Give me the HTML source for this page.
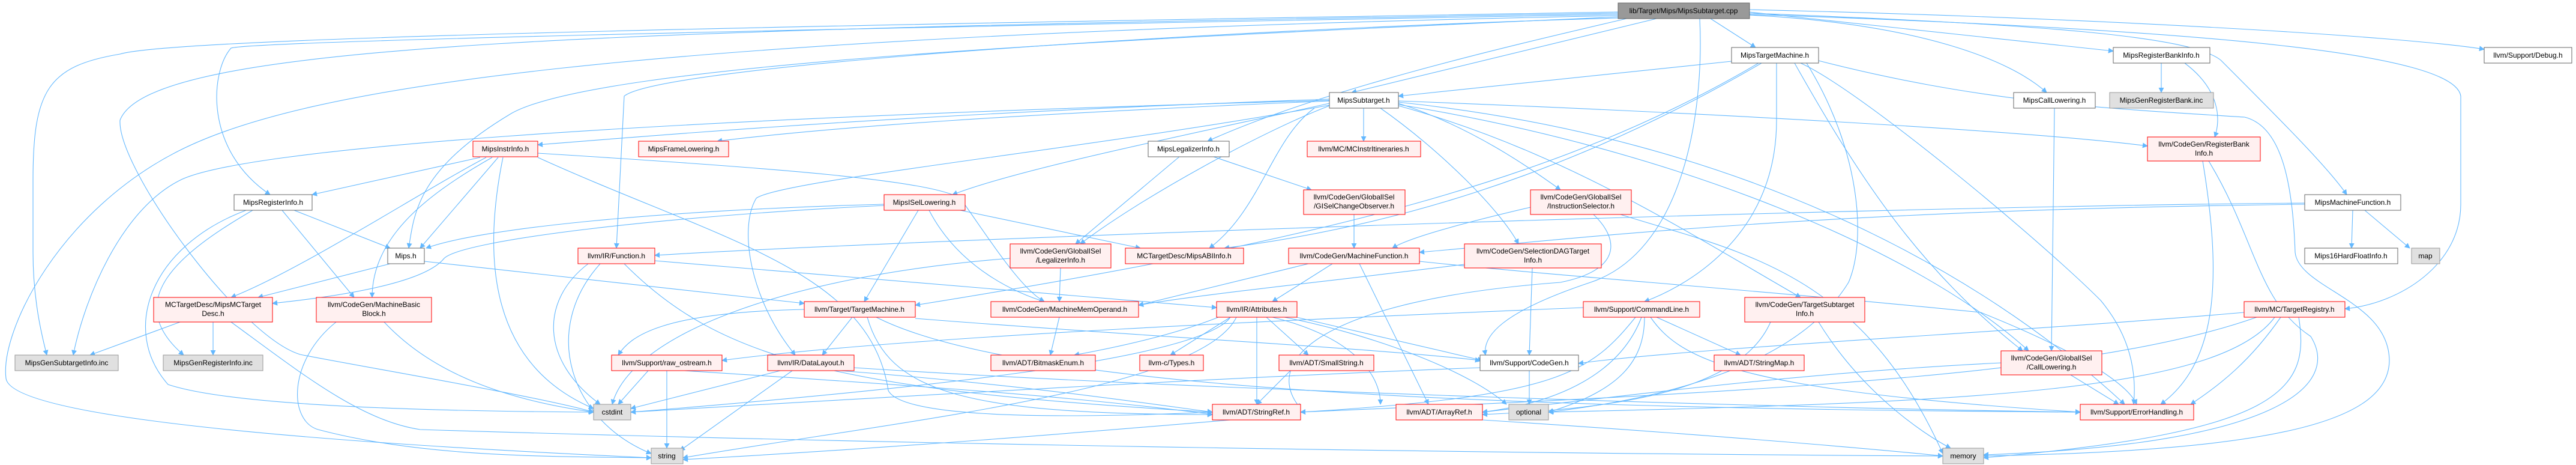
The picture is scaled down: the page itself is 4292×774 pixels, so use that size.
<!DOCTYPE html>
<html><head><meta charset="utf-8"><style>
html,body{margin:0;padding:0;background:#fff;}
svg{display:block;}
text{font-family:"Liberation Sans",sans-serif;font-size:12px;fill:#000;text-anchor:middle;}
.e{fill:none;stroke:#63b8ff;stroke-width:1.1;marker-end:url(#a);}
.w{fill:#fff;stroke:#666;}
.r{fill:#fff0f0;stroke:#f00;}
.g{fill:#e0e0e0;stroke:#999;}
.k{fill:#999;stroke:#666;}
</style></head><body>
<svg width="4292" height="774" viewBox="0 0 4292 774" xmlns="http://www.w3.org/2000/svg">
<defs><marker id="a" viewBox="0 0 10 10" refX="9" refY="5" markerWidth="9" markerHeight="9" markerUnits="userSpaceOnUse" orient="auto"><path d="M0,0L10,5L0,10z" fill="#63b8ff"/></marker></defs>
<g>
<path class="e" d="M2696,20 C1500,40 300,60 200,90 C80,110 55,150 55,300 L55,420 C55,500 70,560 78,591"/>
<path class="e" d="M2696,22 C1000,50 250,70 200,200 C195,280 400,560 500,590 C600,610 900,660 989,686"/>
<path class="e" d="M2696,24 C1200,50 420,70 385,80 C350,120 340,250 450,324"/>
<path class="e" d="M2696,26 C1000,60 500,150 300,250 C100,350 0,550 10,630 C20,700 600,740 1085,762"/>
<path class="e" d="M2696,28 C2000,60 1000,100 850,190 C700,280 690,350 681,413"/>
<path class="e" d="M2696,30 C2000,50 1100,110 1040,160 L1027,413"/>
<path class="e" d="M2710,31 C2500,80 2200,150 2012,235"/>
<path class="e" d="M2760,31 L2252,154"/>
<path class="e" d="M2850,31 L2925,79"/>
<path class="e" d="M2832,31 C2840,200 2800,420 2650,470 C2500,520 2470,560 2475,591"/>
<path class="e" d="M2915,25 C3200,40 3350,100 3410,154"/>
<path class="e" d="M2915,20 L3521,85"/>
<path class="e" d="M2915,16 C3500,30 4000,60 4139,82"/>
<path class="e" d="M2915,22 C3400,40 3650,60 3700,100 C3800,200 3880,280 3910,324"/>
<path class="e" d="M2915,24 C3700,50 4090,90 4100,160 L4100,340 C4100,440 4000,505 3907,514"/>
<path class="e" d="M2885,102 L2330,160"/>
<path class="e" d="M2935,105 C2600,300 2300,380 2040,413"/>
<path class="e" d="M2930,105 C2600,300 2200,400 1525,508"/>
<path class="e" d="M2960,105 L2960,200 C2960,400 2800,480 2740,502"/>
<path class="e" d="M3030,101 C3300,170 3500,180 3740,195 C3800,210 3820,300 3824,420 C3830,480 3980,500 3981,600 C3980,700 3800,750 3305,759"/>
<path class="e" d="M3000,105 C3100,150 3400,400 3500,500 C3550,560 3560,620 3555,673"/>
<path class="e" d="M2990,105 C3100,300 3200,450 3370,584"/>
<path class="e" d="M3010,105 C3100,250 3110,400 3080,470 C3000,600 2800,660 2580,686"/>
<path class="e" d="M2272,180 L2272,235"/>
<path class="e" d="M2300,180 C2400,250 2500,350 2530,406"/>
<path class="e" d="M2330,172 C2450,210 2550,280 2600,316"/>
<path class="e" d="M2330,176 C2600,250 2800,380 3000,495"/>
<path class="e" d="M2330,174 C2800,250 3200,420 3380,584"/>
<path class="e" d="M2330,168 C2900,190 3400,220 3578,243"/>
<path class="e" d="M2330,170 C2900,230 3300,450 3540,673"/>
<path class="e" d="M2190,180 C2120,230 2100,350 2015,413"/>
<path class="e" d="M2215,176 C2100,220 1900,330 1800,406"/>
<path class="e" d="M2215,172 C2000,220 1700,280 1587,324"/>
<path class="e" d="M2215,168 C1700,190 1400,210 1195,235"/>
<path class="e" d="M2215,165 C1500,190 1100,225 896,241"/>
<path class="e" d="M2215,167 C1000,200 400,250 300,300 C200,350 140,500 122,591"/>
<path class="e" d="M2215,175 C1800,250 1300,300 1260,330 C1230,380 1250,500 1325,591"/>
<path class="e" d="M800,262 L520,324"/>
<path class="e" d="M830,262 L700,413"/>
<path class="e" d="M810,262 C700,320 500,450 385,495"/>
<path class="e" d="M820,262 C700,330 620,400 620,495"/>
<path class="e" d="M838,262 C810,400 800,600 989,680"/>
<path class="e" d="M896,255 C1300,280 1550,300 1600,330 C1650,400 1700,480 1740,502"/>
<path class="e" d="M896,262 C1200,400 1450,450 1480,650 C1500,690 1700,700 2020,686"/>
<path class="e" d="M490,350 L650,413"/>
<path class="e" d="M470,350 L590,495"/>
<path class="e" d="M421,350 C300,420 200,500 306,591"/>
<path class="e" d="M410,350 C250,410 200,550 280,640 C400,680 800,685 989,686"/>
<path class="e" d="M650,439 L430,495"/>
<path class="e" d="M707,435 L1340,505"/>
<path class="e" d="M300,536 L150,591"/>
<path class="e" d="M355,536 L355,591"/>
<path class="e" d="M385,536 C500,620 600,700 700,715 C1500,740 2500,755 3237,759"/>
<path class="e" d="M560,536 C480,600 480,700 530,715 C700,760 900,760 1085,762"/>
<path class="e" d="M640,536 C700,600 800,660 989,686"/>
<path class="e" d="M1091,434 L2027,512"/>
<path class="e" d="M980,439 C900,500 900,600 1000,673"/>
<path class="e" d="M1000,439 C900,550 950,700 1085,755"/>
<path class="e" d="M1040,439 C1200,600 1400,650 2020,686"/>
<path class="e" d="M1530,350 L1440,502"/>
<path class="e" d="M1548,350 C1600,450 1700,490 1740,502"/>
<path class="e" d="M1600,350 L1900,413"/>
<path class="e" d="M1473,340 C1100,350 800,380 710,413"/>
<path class="e" d="M1473,342 C1100,360 770,400 740,430 C700,480 500,500 454,505"/>
<path class="e" d="M1767,446 L1765,502"/>
<path class="e" d="M1683,430 C1300,460 1050,560 1020,673"/>
<path class="e" d="M1966,260 L1792,406"/>
<path class="e" d="M2019,260 L2185,316"/>
<path class="e" d="M2256,357 L2256,413"/>
<path class="e" d="M2550,345 C2400,380 2340,400 2320,413"/>
<path class="e" d="M2655,357 C2700,400 2700,450 2600,470 C2200,500 2100,600 2167,680"/>
<path class="e" d="M2700,357 C2900,420 3100,450 3237,755"/>
<path class="e" d="M2553,446 L2548,591"/>
<path class="e" d="M2440,440 C2200,470 2000,490 1897,508"/>
<path class="e" d="M2265,439 L2380,673"/>
<path class="e" d="M2180,439 L1897,508"/>
<path class="e" d="M2220,439 L2120,502"/>
<path class="e" d="M2365,435 C2600,460 2900,480 3300,520 C3500,600 3550,650 3560,673"/>
<path class="e" d="M1420,528 L1370,591"/>
<path class="e" d="M1340,515 C1100,520 1050,560 1030,591"/>
<path class="e" d="M1525,530 C1900,560 2300,580 2466,600"/>
<path class="e" d="M1445,528 C1480,650 1600,690 2020,690"/>
<path class="e" d="M1460,528 C1700,650 2500,680 3466,686"/>
<path class="e" d="M1765,528 L1750,591"/>
<path class="e" d="M2760,528 L2900,591"/>
<path class="e" d="M2725,528 C2650,620 2600,660 2167,686"/>
<path class="e" d="M2735,528 C2700,620 2600,670 2470,686"/>
<path class="e" d="M2740,528 C2740,600 2700,650 2580,686"/>
<path class="e" d="M2750,528 C2800,600 2900,650 3466,686"/>
<path class="e" d="M2638,512 C2200,530 1500,560 1203,600"/>
<path class="e" d="M2110,528 L2180,591"/>
<path class="e" d="M2094,528 L2094,673"/>
<path class="e" d="M2120,528 C2250,560 2300,620 2300,673"/>
<path class="e" d="M2140,528 C2300,560 2450,620 2510,673"/>
<path class="e" d="M2160,528 L2470,600"/>
<path class="e" d="M2050,528 C2000,600 1500,650 1051,686"/>
<path class="e" d="M2060,528 C2000,650 1500,700 1138,762"/>
<path class="e" d="M2050,528 L1950,591"/>
<path class="e" d="M2030,528 C1950,560 1850,580 1790,591"/>
<path class="e" d="M2150,617 L2094,673"/>
<path class="e" d="M2548,617 L2548,673"/>
<path class="e" d="M2466,612 C2000,630 1500,660 1051,686"/>
<path class="e" d="M1080,617 L1030,673"/>
<path class="e" d="M1111,617 L1111,746"/>
<path class="e" d="M1140,617 C1500,640 1800,660 2020,690"/>
<path class="e" d="M1300,617 L1051,680"/>
<path class="e" d="M1320,617 L1133,750"/>
<path class="e" d="M1400,617 C1700,640 1900,670 2020,686"/>
<path class="e" d="M1423,612 C2000,650 3000,680 3466,686"/>
<path class="e" d="M2050,699 C1800,720 1500,745 1138,765"/>
<path class="e" d="M2470,699 C2800,720 3100,745 3237,759"/>
<path class="e" d="M3030,536 C3100,650 3200,720 3250,746"/>
<path class="e" d="M2950,536 C2900,650 2700,680 2470,690"/>
<path class="e" d="M3800,528 C3750,600 3700,640 3650,673"/>
<path class="e" d="M3739,520 C3400,550 2800,580 2630,605"/>
<path class="e" d="M3760,528 C3500,620 3000,650 2167,686"/>
<path class="e" d="M3790,528 C3700,650 3300,670 2580,686"/>
<path class="e" d="M3830,528 C3850,650 3800,720 3305,762"/>
<path class="e" d="M3450,624 L3530,673"/>
<path class="e" d="M3334,604 C3000,620 2700,660 2470,686"/>
<path class="e" d="M3670,268 C3700,450 3700,600 3600,673"/>
<path class="e" d="M3680,268 C3760,400 3760,500 3850,560 C3900,640 3800,740 3305,757"/>
<path class="e" d="M3601,105 L3601,154"/>
<path class="e" d="M3640,105 C3700,150 3700,200 3690,228"/>
<path class="e" d="M3423,180 L3418,584"/>
<path class="e" d="M3920,350 L3918,413"/>
<path class="e" d="M3940,350 L4015,413"/>
<path class="e" d="M3840,338 C3000,345 1500,400 1091,425"/>
<path class="e" d="M3840,340 C3000,350 2600,400 2365,420"/>
</g>
<g>
<rect class="k" x="2696" y="5" width="219" height="26"/><text x="2805" y="22">lib/Target/Mips/MipsSubtarget.cpp</text>
<rect class="w" x="2885" y="79" width="145" height="26"/><text x="2957" y="96">MipsTargetMachine.h</text>
<rect class="w" x="3521" y="79" width="161" height="26"/><text x="3601" y="96">MipsRegisterBankInfo.h</text>
<rect class="w" x="4139" y="79" width="146" height="26"/><text x="4212" y="96">llvm/Support/Debug.h</text>
<rect class="w" x="2215" y="154" width="115" height="26"/><text x="2272" y="171">MipsSubtarget.h</text>
<rect class="w" x="3355" y="154" width="136" height="26"/><text x="3423" y="171">MipsCallLowering.h</text>
<rect class="g" x="3515" y="154" width="173" height="26"/><text x="3601" y="171">MipsGenRegisterBank.inc</text>
<rect class="r" x="788" y="235" width="108" height="26"/><text x="842" y="252">MipsInstrInfo.h</text>
<rect class="r" x="1064" y="235" width="150" height="26"/><text x="1139" y="252">MipsFrameLowering.h</text>
<rect class="w" x="1913" y="235" width="135" height="26"/><text x="1980" y="252">MipsLegalizerInfo.h</text>
<rect class="r" x="2178" y="235" width="189" height="26"/><text x="2272" y="252">llvm/MC/MCInstrItineraries.h</text>
<rect class="r" x="3578" y="228" width="188" height="40"/><text x="3672" y="244">llvm/CodeGen/RegisterBank</text><text x="3672" y="259">Info.h</text>
<rect class="w" x="390" y="324" width="130" height="26"/><text x="455" y="341">MipsRegisterInfo.h</text>
<rect class="r" x="1473" y="324" width="135" height="26"/><text x="1540" y="341">MipsISelLowering.h</text>
<rect class="r" x="2172" y="316" width="169" height="41"/><text x="2256" y="332">llvm/CodeGen/GlobalISel</text><text x="2256" y="347">/GISelChangeObserver.h</text>
<rect class="r" x="2550" y="316" width="168" height="41"/><text x="2634" y="332">llvm/CodeGen/GlobalISel</text><text x="2634" y="347">/InstructionSelector.h</text>
<rect class="w" x="3840" y="324" width="160" height="26"/><text x="3920" y="341">MipsMachineFunction.h</text>
<rect class="w" x="646" y="413" width="61" height="26"/><text x="676" y="430">Mips.h</text>
<rect class="r" x="963" y="413" width="128" height="26"/><text x="1027" y="430">llvm/IR/Function.h</text>
<rect class="r" x="1683" y="406" width="168" height="40"/><text x="1767" y="422">llvm/CodeGen/GlobalISel</text><text x="1767" y="437">/LegalizerInfo.h</text>
<rect class="r" x="1875" y="413" width="197" height="26"/><text x="1973" y="430">MCTargetDesc/MipsABIInfo.h</text>
<rect class="r" x="2147" y="413" width="218" height="26"/><text x="2256" y="430">llvm/CodeGen/MachineFunction.h</text>
<rect class="r" x="2440" y="406" width="228" height="40"/><text x="2554" y="422">llvm/CodeGen/SelectionDAGTarget</text><text x="2554" y="437">Info.h</text>
<rect class="w" x="3840" y="413" width="155" height="26"/><text x="3917" y="430">Mips16HardFloatInfo.h</text>
<rect class="g" x="4018" y="413" width="47" height="26"/><text x="4041" y="430">map</text>
<rect class="r" x="256" y="495" width="198" height="41"/><text x="355" y="511">MCTargetDesc/MipsMCTarget</text><text x="355" y="526">Desc.h</text>
<rect class="r" x="527" y="495" width="192" height="41"/><text x="623" y="511">llvm/CodeGen/MachineBasic</text><text x="623" y="526">Block.h</text>
<rect class="r" x="1340" y="502" width="185" height="26"/><text x="1432" y="519">llvm/Target/TargetMachine.h</text>
<rect class="r" x="1651" y="502" width="246" height="26"/><text x="1774" y="519">llvm/CodeGen/MachineMemOperand.h</text>
<rect class="r" x="2027" y="502" width="134" height="26"/><text x="2094" y="519">llvm/IR/Attributes.h</text>
<rect class="r" x="2638" y="502" width="194" height="26"/><text x="2735" y="519">llvm/Support/CommandLine.h</text>
<rect class="r" x="2907" y="495" width="200" height="41"/><text x="3007" y="511">llvm/CodeGen/TargetSubtarget</text><text x="3007" y="526">Info.h</text>
<rect class="r" x="3739" y="502" width="168" height="26"/><text x="3823" y="519">llvm/MC/TargetRegistry.h</text>
<rect class="g" x="25" y="591" width="172" height="26"/><text x="111" y="608">MipsGenSubtargetInfo.inc</text>
<rect class="g" x="272" y="591" width="166" height="26"/><text x="355" y="608">MipsGenRegisterInfo.inc</text>
<rect class="r" x="1019" y="591" width="184" height="26"/><text x="1111" y="608">llvm/Support/raw_ostream.h</text>
<rect class="r" x="1279" y="591" width="144" height="26"/><text x="1351" y="608">llvm/IR/DataLayout.h</text>
<rect class="r" x="1651" y="591" width="174" height="26"/><text x="1738" y="608">llvm/ADT/BitmaskEnum.h</text>
<rect class="r" x="1899" y="591" width="106" height="26"/><text x="1952" y="608">llvm-c/Types.h</text>
<rect class="r" x="2131" y="591" width="158" height="26"/><text x="2210" y="608">llvm/ADT/SmallString.h</text>
<rect class="w" x="2466" y="591" width="164" height="26"/><text x="2548" y="608">llvm/Support/CodeGen.h</text>
<rect class="r" x="2856" y="591" width="150" height="26"/><text x="2931" y="608">llvm/ADT/StringMap.h</text>
<rect class="r" x="3334" y="584" width="168" height="40"/><text x="3418" y="600">llvm/CodeGen/GlobalISel</text><text x="3418" y="615">/CallLowering.h</text>
<rect class="g" x="989" y="673" width="62" height="26"/><text x="1020" y="690">cstdint</text>
<rect class="r" x="2020" y="673" width="147" height="26"/><text x="2093" y="690">llvm/ADT/StringRef.h</text>
<rect class="r" x="2326" y="673" width="144" height="26"/><text x="2398" y="690">llvm/ADT/ArrayRef.h</text>
<rect class="g" x="2514" y="673" width="66" height="26"/><text x="2547" y="690">optional</text>
<rect class="r" x="3466" y="673" width="189" height="26"/><text x="3560" y="690">llvm/Support/ErrorHandling.h</text>
<rect class="g" x="1085" y="746" width="53" height="26"/><text x="1111" y="763">string</text>
<rect class="g" x="3237" y="746" width="68" height="26"/><text x="3271" y="763">memory</text>
</g>
</svg>
</body></html>
